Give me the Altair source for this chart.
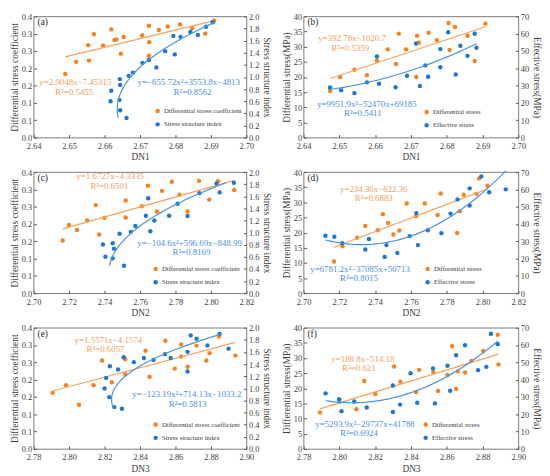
import altair as alt
import pandas as pd

# ---------------- data ----------------
a_dsc_x = [2.6489, 2.6520, 2.6554, 2.6556, 2.6570, 2.6596, 2.6619, 2.6628, 2.6634, 2.6646, 2.6654,
           2.6706, 2.6725, 2.6726, 2.6725, 2.6753, 2.6778, 2.6813, 2.6847, 2.6884, 2.6909]
a_dsc_y = [0.210, 0.250, 0.305, 0.254, 0.341, 0.304, 0.357, 0.322, 0.324, 0.277, 0.332,
           0.337, 0.369, 0.315, 0.270, 0.355, 0.367, 0.373, 0.361, 0.343, 0.386]
a_ssi_x = [2.6619, 2.6617, 2.6642, 2.6643, 2.6644, 2.6644, 2.6662, 2.6668, 2.6680, 2.6707,
           2.6725, 2.6746, 2.6771, 2.6794, 2.6798, 2.6814, 2.6842, 2.6863, 2.6886, 2.6905]
a_ssi_y = [0.772, 0.600, 0.622, 0.965, 0.869, 0.450, 0.322, 1.019, 1.072, 1.233,
           1.281, 1.158, 1.426, 1.678, 1.373, 1.662, 1.743, 1.694, 1.828, 1.903]

b_ds_x = [2.6474, 2.6502, 2.6542, 2.6577, 2.6605, 2.6635, 2.6658, 2.6666, 2.6686, 2.6715,
          2.6717, 2.6722, 2.6749, 2.6772, 2.6808, 2.6805, 2.6823, 2.6858, 2.6878, 2.6908]
b_ds_y = [15.4, 20.0, 22.4, 20.6, 25.4, 29.1, 24.3, 34.3, 29.1, 20.0,
          33.6, 31.3, 34.6, 32.1, 28.9, 37.8, 36.5, 33.6, 25.3, 37.6]
b_es_x = [2.6474, 2.6505, 2.6542, 2.6577, 2.6605, 2.6611, 2.6657, 2.6689, 2.6714, 2.6725,
          2.6740, 2.6748, 2.6782, 2.6782, 2.6804, 2.6825, 2.6838, 2.6858, 2.6878, 2.6883]
b_es_y = [28.9, 27.4, 25.7, 31.9, 46.8, 31.1, 29.1, 35.7, 54.3, 29.8,
          41.7, 35.1, 51.1, 40.6, 60.8, 36.4, 53.0, 47.2, 60.0, 51.9]

c_dsc_x = [2.7164, 2.7199, 2.7245, 2.7302, 2.7350, 2.7370, 2.7400, 2.7519, 2.7519, 2.7610,
           2.7644, 2.7695, 2.7724, 2.7779, 2.7823, 2.7868, 2.7933, 2.7990, 2.8040, 2.8131]
c_dsc_y = [0.174, 0.225, 0.209, 0.240, 0.291, 0.194, 0.249, 0.306, 0.250, 0.287,
           0.355, 0.270, 0.338, 0.368, 0.325, 0.270, 0.371, 0.309, 0.370, 0.341]
c_ssi_x = [2.7391, 2.7405, 2.7446, 2.7453, 2.7446, 2.7485, 2.7510, 2.7548, 2.7574, 2.7633,
           2.7646, 2.7658, 2.7681, 2.7764, 2.7812, 2.7868, 2.7935, 2.8031, 2.8049, 2.8129]
c_ssi_y = [0.805, 0.603, 0.827, 0.736, 0.576, 0.981, 0.453, 1.013, 1.109, 1.280,
           1.568, 1.024, 1.200, 1.280, 1.477, 1.275, 1.653, 1.813, 1.664, 1.824]

d_ds_x = [2.7170, 2.7218, 2.7299, 2.7345, 2.7415, 2.7443, 2.7472, 2.7502, 2.7535, 2.7576,
          2.7628, 2.7677, 2.7749, 2.7766, 2.7858, 2.7873, 2.7895, 2.7966, 2.7981, 2.8028]
d_ds_y = [10.5, 15.5, 18.3, 22.2, 20.8, 26.1, 23.2, 19.4, 20.7, 29.6,
          25.4, 29.6, 25.8, 32.9, 19.9, 27.1, 32.5, 32.8, 37.9, 35.5]
d_es_x = [2.7122, 2.7172, 2.7216, 2.7345, 2.7365, 2.7453, 2.7463, 2.7524, 2.7593, 2.7630,
          2.7639, 2.7694, 2.7770, 2.7821, 2.7860, 2.7928, 2.7928, 2.7993, 2.8037, 2.8130]
d_es_y = [33.2, 32.6, 28.9, 25.3, 31.3, 21.0, 27.8, 23.3, 33.0, 46.3,
          27.8, 36.4, 34.7, 46.0, 54.2, 60.6, 50.7, 67.4, 58.3, 60.0]

e_dsc_x = [2.7907, 2.7983, 2.8056, 2.8138, 2.8186, 2.8241, 2.8316, 2.8316, 2.8431, 2.8454,
           2.8543, 2.8596, 2.8632, 2.8632, 2.8669, 2.8719, 2.8774, 2.8792, 2.8845, 2.8938]
e_dsc_y = [0.185, 0.210, 0.146, 0.210, 0.292, 0.220, 0.296, 0.247, 0.324, 0.238,
           0.357, 0.265, 0.345, 0.305, 0.271, 0.341, 0.292, 0.316, 0.371, 0.308]
e_ssi_x = [2.8209, 2.8230, 2.8200, 2.8227, 2.8255, 2.8298, 2.8276, 2.8308, 2.8365, 2.8422,
           2.8476, 2.8541, 2.8573, 2.8668, 2.8668, 2.8686, 2.8719, 2.8780, 2.8849, 2.8899]
e_ssi_y = [1.172, 1.363, 0.997, 0.854, 0.690, 0.663, 1.310, 1.512, 1.432, 1.501,
           1.469, 1.565, 1.501, 1.278, 1.602, 1.873, 1.820, 1.708, 1.899, 1.655]

f_ds_x = [2.7892, 2.7999, 2.8095, 2.8139, 2.8201, 2.8306, 2.8341, 2.8428, 2.8446, 2.8525,
          2.8551, 2.8604, 2.8630, 2.8652, 2.8661, 2.8702, 2.8738, 2.8804, 2.8885, 2.8889]
f_ds_y = [12.05, 15.5, 13.1, 22.4, 18.1, 27.2, 22.2, 18.8, 26.1, 25.3,
          19.1, 24.4, 33.9, 19.8, 25.6, 25.2, 29.0, 32.3, 37.7, 27.9]
f_es_x = [2.7923, 2.7999, 2.8012, 2.8083, 2.8153, 2.8299, 2.8299, 2.8339, 2.8398, 2.8435,
          2.8523, 2.8534, 2.8604, 2.8619, 2.8652, 2.8702, 2.8775, 2.8821, 2.8847, 2.8885]
f_es_y = [32.1, 28.7, 21.8, 27.4, 23.9, 21.3, 36.6, 25.6, 43.7, 26.7,
          46.5, 26.3, 48.0, 33.6, 54.1, 59.9, 45.5, 47.4, 66.5, 60.5]

# tick values / labels
x_ticks_dn1 = [2.64, 2.65, 2.66, 2.67, 2.68, 2.69, 2.70]
x_ticks_dn2 = [2.70, 2.72, 2.74, 2.76, 2.78, 2.80, 2.82]
x_ticks_dn3 = [2.78, 2.80, 2.82, 2.84, 2.86, 2.88, 2.90]
coef_ticks = [0.4 * k / 7 for k in range(8)]
index_ticks = [0.2 * k for k in range(11)]
ds_ticks = [5 * k for k in range(9)]
es_ticks = [10 * k for k in range(8)]

eq = {
    "a": ("y=2.9048x\u22127.45315", "R\u00b2=0.5455", "y=\u2212655.72x\u00b2+3553.8x\u22124813", "R\u00b2=0.8562"),
    "b": ("y=392.78x\u22121020.7", "R\u00b2=0.5359", "y=9951.9x\u00b2\u221252470x+69185", "R\u00b2=0.5411"),
    "c": ("y=1.6727x\u22124.3335", "R\u00b2=0.6501", "y=\u2212104.6x\u00b2+596.69x\u2212848.99", "R\u00b2=0.8169"),
    "d": ("y=234.36x\u2212622.36", "R\u00b2=0.6883", "y=6781.2x\u00b2\u221237085x+50713", "R\u00b2=0.8015"),
    "e": ("y=1.5571x\u22124.1574", "R\u00b2=0.6057", "y=\u2212123.19x\u00b2+714.13x\u22121033.2", "R\u00b2=0.5813"),
    "f": ("y=188.8x\u2212514.18", "R\u00b2=0.621", "y=5293.9x\u00b2\u221229737x+41788", "R\u00b2=0.6924"),
}

# ---------------- styling ----------------
FONT = "Liberation Serif"
ORANGE = "#F5821F"
BLUE = "#1F77D0"
ORANGE_L = "#F8A35E"
BLUE_L = "#4B93DC"
ORANGE_T = "#F4A05A"
BLUE_T = "#4A90E0"
W1, W2, H = 216, 218, 123
LINE_GAP = 9.5


def make_panel(tag, xo, yo, xb, yb, lab_o, lab_b, xdom, xvals, xtitle,
               ldom, lvals, lfmt, ltitle, rdom, rvals, rfmt, rtitle,
               sideways, W, pos, legpos):
    df_o = pd.DataFrame({"x": xo, "y": yo, "s": lab_o})
    df_b = pd.DataFrame({"x": xb, "y": yb, "s": lab_b})
    xenc = alt.X("x:Q", scale=alt.Scale(domain=xdom, nice=False, zero=False),
                 axis=alt.Axis(values=xvals, format=".2f", title=xtitle))
    yl = alt.Y("y:Q", scale=alt.Scale(domain=ldom, nice=False, zero=False),
               axis=alt.Axis(values=lvals, format=lfmt, title=ltitle, orient="left", titlePadding=2))
    yr = alt.Y("y:Q", scale=alt.Scale(domain=rdom, nice=False, zero=False),
               axis=alt.Axis(values=rvals, format=rfmt, title=rtitle, orient="right"))
    color = alt.Color("s:N", scale=alt.Scale(domain=[lab_o, lab_b], range=[ORANGE, BLUE]),
                      legend=alt.Legend(orient="none", legendX=W - legpos[0] - 2.5,
                                        legendY=legpos[1] * H - 3.5, title=None,
                                        symbolType="circle", symbolSize=20, symbolStrokeWidth=0,
                                        labelFont=FONT, labelFontSize=6.8, labelColor="#404040",
                                        padding=0, rowPadding=5.5, labelOffset=3))
    pts_o = alt.Chart(df_o).mark_circle(size=20, opacity=1).encode(x=xenc, y=yl, color=color)
    line_o = alt.Chart(df_o).transform_regression("x", "y").mark_line(
        color=ORANGE_L, strokeWidth=1.2).encode(x=xenc, y=yl)
    pts_b = alt.Chart(df_b).mark_circle(size=20, opacity=1).encode(x=xenc, y=yr, color=color)
    if sideways:
        line_b = alt.Chart(df_b).transform_regression("y", "x", method="poly", order=2).mark_line(
            color=BLUE_L, strokeWidth=1.2).encode(x=xenc, y=yr, order="y:Q")
    else:
        line_b = alt.Chart(df_b).transform_regression("x", "y", method="poly", order=2).mark_line(
            color=BLUE_L, strokeWidth=1.2).encode(x=xenc, y=yr)
    left = alt.layer(pts_o, line_o)
    right = alt.layer(pts_b, line_b)

    e1, r1, e2, r2 = eq[tag]
    (ox, oy, orx), (bx, by, brx) = pos
    items = [("(" + tag + ")", 4, 6, "#262626", "left", 9.5),
             (e1, ox * W, oy * H, ORANGE_T, "center", 9),
             (r1, orx * W, oy * H + LINE_GAP, ORANGE_T, "center", 9),
             (e2, bx * W, by * H, BLUE_T, "center", 9),
             (r2, brx * W, by * H + LINE_GAP, BLUE_T, "center", 9)]
    texts = []
    for t, px, py, col, al, fs in items:
        texts.append(
            alt.Chart(pd.DataFrame({"t": [t]})).mark_text(
                font=FONT, fontSize=fs, color=col, align=al,
                baseline="middle").encode(text="t:N", x=alt.value(px), y=alt.value(py)))
    return alt.layer(left, right, *texts).resolve_scale(y="independent").properties(width=W, height=H)


pa = make_panel("a", a_dsc_x, a_dsc_y, a_ssi_x, a_ssi_y,
                "Differential stress coefficient", "Stress structure index",
                [2.64, 2.70], x_ticks_dn1, "DN1",
                [0, 0.4], coef_ticks, ".1f", "Differential stress coefficient",
                [0, 2], index_ticks, ".1f", "Stress structure index", True, W1,
                [(0.196, 0.545, 0.191), (0.729, 0.545, 0.747)], (91, 0.782))
pb = make_panel("b", b_ds_x, b_ds_y, b_es_x, b_es_y,
                "Differential stress", "Effective stress",
                [2.64, 2.70], x_ticks_dn1, "DN1",
                [0, 40], ds_ticks, "d", "Differential stress(MPa)",
                [0, 70], es_ticks, "d", "Effective stress(MPa)", False, W2,
                [(0.226, 0.18, 0.217), (0.295, 0.72, 0.276)], (94, 0.79))
pc = make_panel("c", c_dsc_x, c_dsc_y, c_ssi_x, c_ssi_y,
                "Differential stress coefficient", "Stress structure index",
                [2.70, 2.82], x_ticks_dn2, "DN2",
                [0, 0.4], coef_ticks, ".1f", "Differential stress coefficient",
                [0, 2], index_ticks, ".1f", "Stress structure index", True, W1,
                [(0.36, 0.035, 0.356), (0.733, 0.585, 0.742)], (93, 0.80))
pd_ = make_panel("d", d_ds_x, d_ds_y, d_es_x, d_es_y,
                 "Differential stress", "Effective stress",
                 [2.70, 2.82], x_ticks_dn2, "DN2",
                 [0, 40], ds_ticks, "d", "Differential stress(MPa)",
                 [0, 70], es_ticks, "d", "Effective stress(MPa)", False, W2,
                 [(0.327, 0.14, 0.327), (0.263, 0.80, 0.258)], (93, 0.80))
pe = make_panel("e", e_dsc_x, e_dsc_y, e_ssi_x, e_ssi_y,
                "Differential stress coefficient", "Stress structure index",
                [2.78, 2.90], x_ticks_dn3, "DN3",
                [0, 0.4], coef_ticks, ".1f", "Differential stress coefficient",
                [0, 2], index_ticks, ".1f", "Stress structure index", True, W1,
                [(0.351, 0.10, 0.338), (0.72, 0.55, 0.724)], (93, 0.80))
pf = make_panel("f", f_ds_x, f_ds_y, f_es_x, f_es_y,
                "Differential stress", "Effective stress",
                [2.78, 2.90], x_ticks_dn3, "DN3",
                [0, 40], ds_ticks, "d", "Differential stress(MPa)",
                [0, 70], es_ticks, "d", "Effective stress(MPa)", False, W2,
                [(0.276, 0.255, 0.258), (0.286, 0.795, 0.258)], (95, 0.80))

HS, VS = 8, 5
rows = [alt.hconcat(p, q, spacing=HS).resolve_scale(color="independent")
        for p, q in [(pa, pb), (pc, pd_), (pe, pf)]]

chart = alt.vconcat(*rows, spacing=VS).resolve_scale(color="independent").properties(
    padding={"left": 0, "top": 0, "right": 0, "bottom": 0}
).configure_view(
    stroke="#595959", strokeWidth=0.8
).configure_axis(
    grid=False, domain=False, tickColor="#595959", tickSize=3, offset=-3,
    labelFont=FONT, labelFontSize=8.5, labelColor="#404040",
    titleFont=FONT, titleFontSize=9.5, titleFontWeight="normal", titleColor="#404040",
    labelPadding=2, titlePadding=3, labelFlush=False, labelOverlap=False
).configure_axisX(
    labelPadding=4, titlePadding=2
)

chart.save("out.html", embed_options={"renderer": "svg", "actions": False})
